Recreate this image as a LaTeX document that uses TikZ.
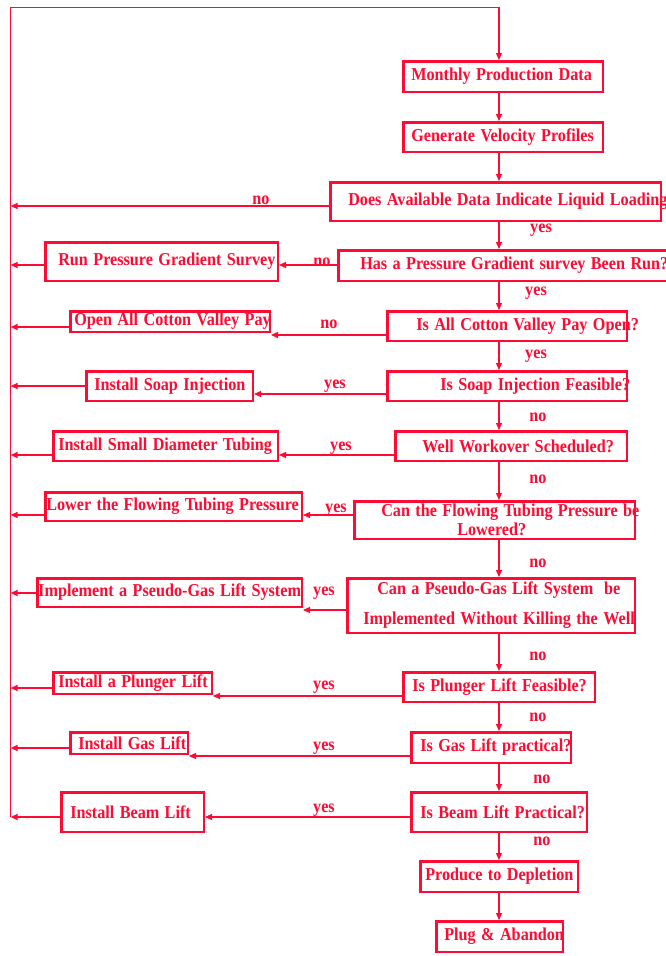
\documentclass[tikz,border=0pt]{standalone}
\usepackage{fontspec}
\usepackage{graphicx}
\setmainfont{Liberation Serif}
\usetikzlibrary{positioning, arrows.meta}
\definecolor{flowred}{RGB}{255,10,50}
% box text, shifted right by #1 and set a little taller
\newcommand{\ftext}[2][0pt]{\mbox{\hspace{#1}\scalebox{1}[1.12]{#2}}}

\begin{document}
\begin{tikzpicture}[x=1pt, y=-1pt, font=\bfseries\fontsize{16.2}{20}\selectfont,
    flowbox/.style={draw=flowred, line width=2.5pt, text=flowred, inner xsep=0pt, inner ysep=0pt, align=left},
    conn/.style={draw=flowred, line width=1.2pt},
    arr/.style={conn, -{Triangle[length=7pt, width=6pt]}},
    lbl/.style={text=flowred, inner sep=0pt}]
    \useasboundingbox (0,0) rectangle (665,956);

    % Main column of checks
    \node[flowbox, text width=199.5pt, minimum height=30.5pt] (mpd) at (503,76.5) {\ftext[8pt]{Monthly Production Data}};
    \node[flowbox, text width=199.5pt, minimum height=29.5pt] (gvp) at (503,137) {\ftext[8pt]{Generate Velocity Profiles}};
    \node[flowbox, text width=330.5pt, minimum height=38.5pt] (dal) at (495.5,201.5) {\ftext[18pt]{Does Available Data Indicate Liquid Loading}};
    \node[flowbox, text width=328.5pt, minimum height=30.5pt] (hpg) at (502.5,265.5) {\ftext[22pt]{Has a Pressure Gradient survey Been Run?}};
    \node[flowbox, text width=239.5pt, minimum height=29.5pt] (acv) at (507,326) {\ftext[29pt]{Is All Cotton Valley Pay Open?}};
    \node[flowbox, text width=239.5pt, minimum height=29.5pt] (sif) at (507,386) {\ftext[53pt]{Is Soap Injection Feasible?}};
    \node[flowbox, text width=231.5pt, minimum height=29.5pt] (wws) at (511,446) {\ftext[27pt]{Well Workover Scheduled?}};
    \node[flowbox, text width=280.5pt, minimum height=37.5pt] (cftp) at (494.5,520) {\ftext[27pt]{Can the Flowing Tubing Pressure be}\\[-1pt]\ftext[103pt]{Lowered?}};
    \node[flowbox, text width=287.5pt, minimum height=54.5pt] (cpgl) at (491,605.5) {\ftext[30pt]{Can a Pseudo-Gas Lift System\ \ be}\\[10pt]\ftext[16pt]{Implemented Without Killing the Well}};
    \node[flowbox, text width=191.5pt, minimum height=29.5pt] (ipf) at (499,687) {\ftext[9pt]{Is Plunger Lift Feasible?}};
    \node[flowbox, text width=159.5pt, minimum height=30.5pt] (igp) at (491,747.5) {\ftext[9pt]{Is Gas Lift practical?}};
    \node[flowbox, text width=175.5pt, minimum height=39.5pt] (ibp) at (499,812) {\ftext[9pt]{Is Beam Lift Practical?}};
    \node[flowbox, text width=157.5pt, minimum height=30.5pt] (ptd) at (499,876.5) {\ftext[5pt]{Produce to Depletion}};
    \node[flowbox, text width=126.5pt, minimum height=30.5pt] (pa) at (499.5,936.5) {\ftext[8pt]{Plug \& Abandon}};

    % Actions on the left
    \node[flowbox, text width=232.5pt, minimum height=38.5pt] (rpg) at (161.5,261.5) {\ftext[13pt]{Run Pressure Gradient Survey}};
    \node[flowbox, text width=199.5pt, minimum height=20.5pt] (ocv) at (170,321.5) {\ftext[4pt]{Open All Cotton Valley Pay}};
    \node[flowbox, text width=166.5pt, minimum height=29.5pt] (isi) at (169.5,386) {\ftext[8pt]{Install Soap Injection}};
    \node[flowbox, text width=224.5pt, minimum height=29.5pt] (isdt) at (165.5,446) {\ftext[5pt]{Install Small Diameter Tubing}};
    \node[flowbox, text width=256.5pt, minimum height=28.5pt] (lftp) at (173.5,506.5) {\ftext[1pt]{Lower the Flowing Tubing Pressure}};
    \node[flowbox, text width=264.5pt, minimum height=28.5pt] (ipgl) at (169.5,592.5) {\ftext[1pt]{Implement a Pseudo-Gas Lift System}};
    \node[flowbox, text width=158.5pt, minimum height=21.5pt] (ipl) at (132.5,683) {\ftext[5pt]{Install a Plunger Lift}};
    \node[flowbox, text width=117.5pt, minimum height=21.5pt] (igl) at (129,743) {\ftext[8pt]{Install Gas Lift}};
    \node[flowbox, text width=142.5pt, minimum height=39.5pt] (ibl) at (132.5,812) {\ftext[9pt]{Install Beam Lift}};

    % Spine and return line
    \coordinate (spine) at (499,0);
    \coordinate (lft) at (10.6,0);
    \coordinate (top) at (10.6,7.3);
    \coordinate (bot) at (10.6,817);
    \draw[arr] (bot) -- (top) -| (mpd.north -| spine);

    \foreach \a/\b in {mpd/gvp, gvp/dal, dal/hpg, hpg/acv, acv/sif, sif/wws, wws/cftp,
        cftp/cpgl, cpgl/ipf, ipf/igp, igp/ibp, ibp/ptd, ptd/pa}
        \draw[arr] (\a.south -| spine) -- (\b.north -| spine);

    \foreach \a/\b/\y in {hpg/rpg/265, acv/ocv/335, sif/isi/394, wws/isdt/455, cftp/lftp/515,
        cpgl/ipgl/610, ipf/ipl/696, igp/igl/756, ibp/ibl/817}
        \draw[arr] (\a.west |- 0,\y) -- (\b.east |- 0,\y);

    \foreach \b/\y in {dal/206, rpg/265, ocv/327, isi/386, isdt/455, lftp/515,
        ipgl/593, ipl/688, igl/748, ibl/817}
        \draw[arr] (\b.west |- 0,\y) -- (lft |- 0,\y);

    % Branch labels
    \foreach \n/\x/\y/\t in {h1/261/200/no, h2/322/262/no, h3/329/324/no, h4/335/386/yes,
        h5/341/448/yes, h6/336/510/yes, h7/324/593/yes, h8/324/687/yes, h9/324/748/yes,
        h10/324/810/yes, v1/541/230/yes, v2/536/293/yes, v3/536/356/yes, v4/538/417/no,
        v5/538/479/no, v6/538/563/no, v7/538/656/no, v8/538/717/no, v9/542/779/no,
        v10/542/841/no}
        \node[lbl] (\n) at (\x,\y) {\scalebox{1}[1.12]{\t}};
\end{tikzpicture}
\end{document}
